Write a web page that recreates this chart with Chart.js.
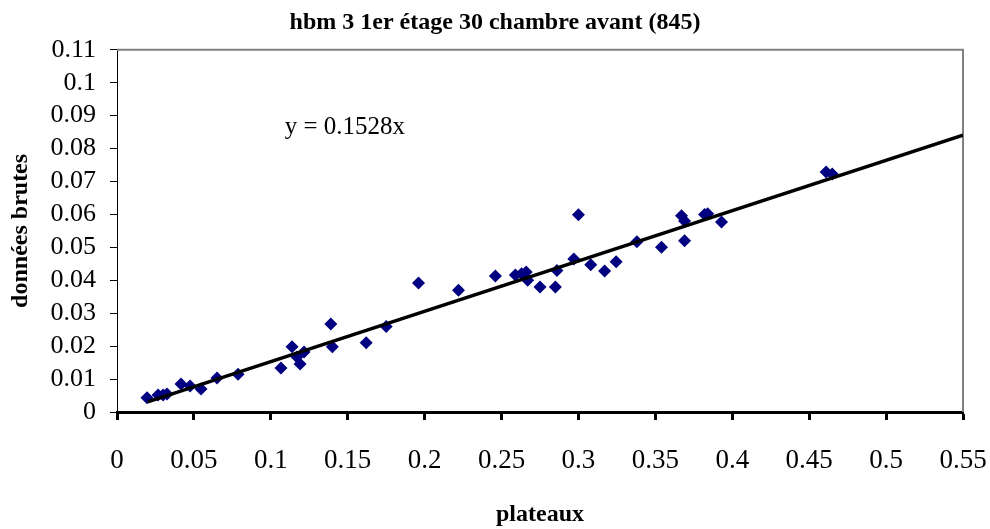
<!DOCTYPE html>
<html>
<head>
<meta charset="utf-8">
<script src="https://cdn.jsdelivr.net/npm/chart.js@4/dist/chart.umd.min.js"></script>
<style>
  html, body { margin: 0; padding: 0; background: #fff; }
  #wrap { width: 990px; height: 529px; }
</style>
</head>
<body>
<div id="wrap"><canvas id="chart" width="990" height="529"></canvas></div>
<script>
// values
const plateaux = [0.0195, 0.0267, 0.030, 0.0325, 0.0416, 0.0475, 0.0546, 0.065, 0.0787, 0.1066,
  0.1138, 0.117, 0.119, 0.1216, 0.139, 0.140, 0.162, 0.175, 0.196, 0.222,
  0.246, 0.259, 0.263, 0.266, 0.267, 0.275, 0.285, 0.286, 0.297, 0.300,
  0.308, 0.317, 0.3245, 0.338, 0.354, 0.367, 0.369, 0.369, 0.382, 0.384,
  0.393, 0.461, 0.465];
const donneesBrutes = [0.0043, 0.0052, 0.0052, 0.0055, 0.0085, 0.0079, 0.0070, 0.0103, 0.0115, 0.0134,
  0.0198, 0.0167, 0.0146, 0.0182, 0.0267, 0.0198, 0.0210, 0.0260, 0.0392, 0.0370,
  0.0413, 0.0416, 0.0420, 0.0425, 0.0400, 0.0380, 0.0380, 0.0430, 0.0465, 0.0599,
  0.0447, 0.0428, 0.0456, 0.0517, 0.0500, 0.0596, 0.0580, 0.0520, 0.0600, 0.0602,
  0.0577, 0.0729, 0.0723];

const trendSlope = 0.1528;
const trendRange = [0.02, 0.55];
const trendLabel = "y = 0.1528x";

const xTickLabels = ["0", "0.05", "0.1", "0.15", "0.2", "0.25", "0.3", "0.35", "0.4", "0.45", "0.5", "0.55"];
const yTickLabels = ["0", "0.01", "0.02", "0.03", "0.04", "0.05", "0.06", "0.07", "0.08", "0.09", "0.1", "0.11"];

const serif = "'Liberation Serif', 'Times New Roman', serif";

const points = plateaux.map((x, i) => ({ x, y: donneesBrutes[i] }));
const trend = trendRange.map(x => ({ x, y: trendSlope * x }));

// gray frame on top and right, plus the equation text
const framePlugin = {
  id: "frame",
  beforeDatasetsDraw(chart) {
    const { ctx, chartArea: a } = chart;
    ctx.save();
    ctx.strokeStyle = "#808080";
    ctx.lineWidth = 2;
    ctx.beginPath();
    ctx.moveTo(a.left, a.top);
    ctx.lineTo(a.right, a.top);
    ctx.lineTo(a.right, a.bottom);
    ctx.stroke();
    ctx.restore();
  },
  afterDatasetsDraw(chart) {
    const { ctx, scales } = chart;
    ctx.save();
    ctx.fillStyle = "#000";
    ctx.font = "25px " + serif;
    ctx.textAlign = "left";
    ctx.textBaseline = "middle";
    ctx.fillText(trendLabel, scales.x.getPixelForValue(0.109), scales.y.getPixelForValue(0.0863));
    ctx.restore();
  }
};

new Chart(document.getElementById("chart"), {
  type: "scatter",
  data: {
    datasets: [
      {
        label: "trend",
        data: trend,
        showLine: true,
        borderColor: "#000",
        borderWidth: 3.5,
        pointRadius: 0,
        fill: false
      },
      {
        label: "données brutes",
        data: points,
        pointStyle: "rectRot",
        pointRadius: 6.5,
        backgroundColor: "#000080",
        borderColor: "#000080",
        borderWidth: 0
      }
    ]
  },
  options: {
    responsive: false,
    animation: false,
    layout: { padding: 0 },
    plugins: {
      legend: { display: false },
      tooltip: { enabled: false },
      title: {
        display: true,
        text: "hbm 3 1er étage 30 chambre avant (845)",
        color: "#000",
        font: { family: serif, size: 24, weight: "bold" },
        padding: { top: 8, bottom: 13 }
      }
    },
    scales: {
      x: {
        type: "linear",
        min: 0,
        max: 0.55,
        afterFit: (scale) => {
          scale.height = 117;
          scale.paddingLeft = 0;
          scale.paddingRight = 27;
        },
        afterBuildTicks: (scale) => {
          scale.ticks = xTickLabels.map(l => ({ value: parseFloat(l) }));
        },
        ticks: {
          color: "#000",
          font: { family: serif, size: 27 },
          padding: 25,
          maxRotation: 0,
          autoSkip: false,
          callback: (v, i) => xTickLabels[i]
        },
        grid: {
          drawOnChartArea: false,
          drawTicks: true,
          tickLength: 8,
          tickWidth: 3,
          tickColor: "#000"
        },
        border: { display: true, color: "#000", width: 3 },
        title: {
          display: true,
          text: "plateaux",
          color: "#000",
          font: { family: serif, size: 24, weight: "bold" },
          padding: { top: 0, bottom: 0 }
        }
      },
      y: {
        type: "linear",
        min: 0,
        max: 0.11,
        afterFit: (scale) => {
          scale.width = 117;
          scale.paddingTop = 0;
          scale.paddingBottom = 0;
        },
        afterBuildTicks: (scale) => {
          scale.ticks = yTickLabels.map(l => ({ value: parseFloat(l) }));
        },
        ticks: {
          color: "#000",
          font: { family: serif, size: 26 },
          padding: 14,
          autoSkip: false,
          callback: (v, i) => yTickLabels[i]
        },
        grid: {
          drawOnChartArea: false,
          drawTicks: true,
          tickLength: 7,
          tickWidth: 1,
          tickColor: "#000"
        },
        border: { display: true, color: "#000", width: 1 },
        title: {
          display: true,
          text: "données brutes",
          color: "#000",
          font: { family: serif, size: 24, weight: "bold" },
          padding: { top: 6, bottom: 0 }
        }
      }
    }
  },
  plugins: [framePlugin]
});
</script>
</body>
</html>
